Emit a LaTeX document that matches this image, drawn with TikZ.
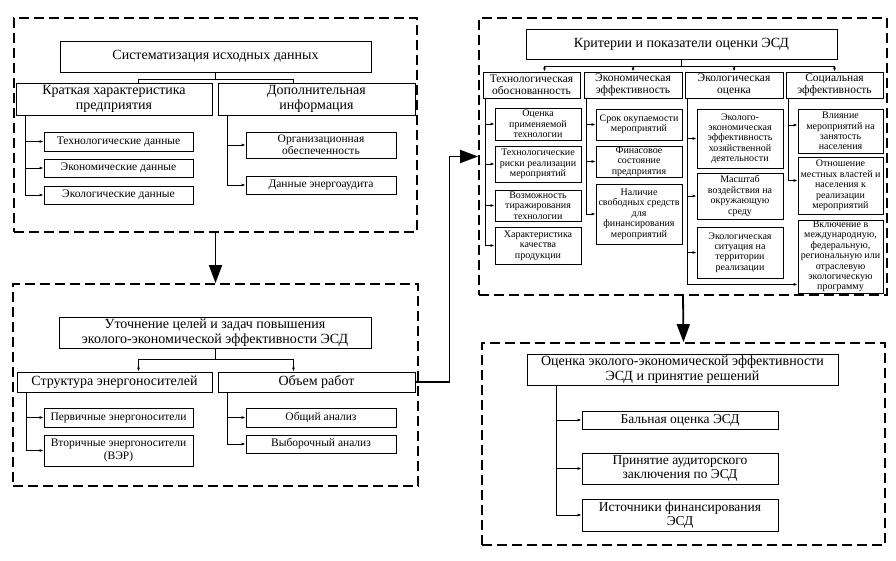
\documentclass[tikz,border=0pt]{standalone}
\usepackage{fontspec}
\setmainfont{Liberation Serif}
\usepackage{tikz}
\usetikzlibrary{positioning, arrows.meta, calc}

\begin{document}
\begin{tikzpicture}[x=1pt, y=-1pt,
    every node/.style={align=center, inner sep=1pt},
    frame/.style  ={draw, line width=1.8pt, dash pattern=on 10pt off 5pt, minimum width=403pt, minimum height=202pt},
    head/.style   ={draw, line width=0.8pt, font=\fontsize{14}{15}\selectfont, minimum width=311pt, minimum height=31pt},
    group/.style  ={draw, line width=0.8pt, font=\fontsize{14}{14.5}\selectfont, minimum width=196pt},
    item/.style   ={draw, line width=0.8pt, font=\fontsize{11.5}{12.5}\selectfont, minimum width=149pt},
    final/.style  ={draw, line width=0.8pt, font=\fontsize{13.5}{14.5}\selectfont, minimum width=196pt},
    col/.style    ={draw, line width=0.8pt, font=\fontsize{11.5}{12.5}\selectfont, minimum width=97pt, minimum height=26pt},
    cell/.style   ={draw, line width=0.8pt, font=\fontsize{10}{10.4}\selectfont, minimum width=86pt, inner sep=0pt},
    tip/.style    ={-{Latex[length=4pt, width=3pt]}, line width=0.8pt},
    link/.style   ={line width=0.8pt},
    bigarrow/.style={-{Triangle[length=18pt, width=13pt]}, line width=1.8pt}
]
\useasboundingbox (0,0) rectangle (896,561);

% Frames
\node[frame, minimum height=214pt] (sys)  at (215.5,125) {};
\node[frame, minimum width=405pt]  (goal) at (215.5,385) {};
\node[frame, minimum width=408pt, minimum height=277pt] (crit) at (683,156.5) {};
\node[frame] (eval) at (683.5,444) {};

% Block 1 -- source data
\node[head]  (h1)    at (215.5,56.5) {Систематизация исходных данных};
\node[group, minimum height=32pt] (brief) at (114,99)   {Краткая характеристика\\предприятия};
\node[group, minimum height=32pt, minimum width=197pt] (extra) at (316.5,99) {Дополнительная\\информация};
\node[item, minimum height=19pt] (techd) at (118.5,141.5) {Технологические данные};
\node[item, minimum height=18pt] (econd) at (118.5,168)   {Экономические данные};
\node[item, minimum height=18pt] (ecold) at (118.5,195)   {Экологические данные};
\node[item, minimum height=26pt, minimum width=150pt] (org)   at (321,145) {Организационная\\обеспеченность};
\node[item, minimum height=18pt, minimum width=150pt] (audit) at (321,185) {Данные энергоаудита};

\draw[link] (h1.south) -- ++(0,7) -| ([xshift=24pt]brief.north);
\draw[link] (h1.south) -- ++(0,7) -| ([xshift=-23pt]extra.north);
\draw[tip] ([xshift=10pt]brief.south west) |- (techd.west);
\draw[tip] ([xshift=10pt]brief.south west) |- (econd.west);
\draw[tip] ([xshift=10pt]brief.south west) |- (ecold.west);
\draw[tip] ([xshift=10pt]extra.south west) |- (org.west);
\draw[tip] ([xshift=10pt]extra.south west) |- (audit.west);

% Block 2 -- goals
\node[head, minimum width=312pt] (h2) at (215,332.5) {Уточнение целей и задач повышения\\эколого-экономической эффективности ЭСД};
\node[group, minimum height=20pt, minimum width=195pt] (carr) at (114.5,382) {Структура энергоносителей};
\node[group, minimum height=20pt, minimum width=197pt] (work) at (316.5,382) {Объем работ};
\node[item, minimum height=19pt] (prim) at (118.5,417.5) {Первичные энергоносители};
\node[item, minimum height=31pt] (sec)  at (118.5,450.5) {Вторичные энергоносители\\(ВЭР)};
\node[item, minimum height=19pt, minimum width=150pt] (gen)  at (321,417.5) {Общий анализ};
\node[item, minimum height=18pt, minimum width=150pt] (samp) at (321,444)   {Выборочный анализ};

\draw[tip] (h2.south) -- ++(0,11) -| ([xshift=24pt]carr.north);
\draw[tip] (h2.south) -- ++(0,11) -| ([xshift=-23pt]work.north);
\draw[tip] ([xshift=10pt]carr.south west) |- (prim.west);
\draw[tip] ([xshift=10pt]carr.south west) |- (sec.west);
\draw[tip] ([xshift=10pt]work.south west) |- (gen.west);
\draw[tip] ([xshift=10pt]work.south west) |- (samp.west);

% Block 3 -- criteria
\node[head, minimum height=30pt] (h3) at (681.5,44) {Критерии и показатели оценки ЭСД};
\node[col] (c1) at (531.5,85) {Технологическая\\обоснованность};
\node[col, minimum width=98pt] (c2) at (633,85)   {Экономическая\\эффективность};
\node[col, minimum width=98pt] (c3) at (734,85)   {Экологическая\\оценка};
\node[col] (c4) at (834.5,85) {Социальная\\эффективность};

\draw[tip] (h3.south) -- ++(0,7) -| ([xshift=13pt]c1.north);
\draw[tip] (h3.south) -- ++(0,7) -| (c2.north);
\draw[tip] (h3.south) -- ++(0,7) -| (c3.north);
\draw[tip] (h3.south) -- ++(0,7) -| (c4.north);

\node[cell, minimum height=32pt] (t1) at (538,124)   {Оценка\\применяемой\\технологии};
\node[cell, minimum height=36pt] (t2) at (538,164)   {Технологические\\риски реализации\\мероприятий};
\node[cell, minimum height=31pt] (t3) at (538,205.5) {Возможность\\тиражирования\\технологии};
\node[cell, minimum height=37pt] (t4) at (538,245.5) {Характеристика\\качества\\продукции};

\node[cell, minimum height=31pt] (e1) at (639,124.5) {Срок окупаемости\\мероприятий};
\node[cell, minimum height=31pt] (e2) at (639,161.5) {Финасовое\\состояние\\предприятия};
\node[cell, minimum height=60pt] (e3) at (639,214)   {Наличие\\свободных средств\\для\\финансирования\\мероприятий};

\node[cell, minimum height=59pt] (g1) at (740,138.5) {Эколого-\\экономическая\\эффективность\\хозяйственной\\деятельности};
\node[cell, minimum height=46pt] (g2) at (740,196)   {Масштаб\\воздействия на\\окружающую\\среду};
\node[cell, minimum height=51pt] (g3) at (740,252.5) {Экологическая\\ситуация на\\территории\\реализации};

\node[cell, minimum height=44pt, minimum width=85pt] (s1) at (840.5,131)   {Влияние\\мероприятий на\\занятость\\населения};
\node[cell, minimum height=57pt, minimum width=85pt] (s2) at (840.5,185.5) {Отношение\\местных властей и\\населения к\\реализации\\мероприятий};
\node[cell, minimum height=73pt, minimum width=85pt] (s3) at (840.5,256.5) {Включение в\\международную,\\федеральную,\\региональную или\\отраслевую\\экологическую\\программу};

\draw[tip] ([xshift=3pt]c1.south west) |- (t1.west);
\draw[tip] ([xshift=3pt]c1.south west) |- (t2.west);
\draw[tip] ([xshift=3pt]c1.south west) |- (t3.west);
\draw[tip] ([xshift=3pt]c1.south west) |- (t4.west);
\draw[tip] ([xshift=3pt]c2.south west) |- (e1.west);
\draw[tip] ([xshift=3pt]c2.south west) |- (e2.west);
\draw[tip] ([xshift=3pt]c2.south west) |- (e3.west);
\draw[tip] ([xshift=3pt]c3.south west) |- (g1.west);
\draw[tip] ([xshift=3pt]c3.south west) |- (g2.west);
\draw[tip] ([xshift=3pt]c3.south west) |- (g3.west);
\draw[tip] ([xshift=3pt]c3.south west) |- ([yshift=9pt]s3.south west);
\draw[tip] ([xshift=3pt]c4.south west) |- ([yshift=6pt]s1.west);
\draw[tip] ([xshift=3pt]c4.south west) |- ([yshift=5pt]s2.west);

% Block 4 -- decision
\node[head] (h4) at (682.5,369.5) {Оценка эколого-экономической эффективности\\ЭСД и принятие решений};
\node[final, minimum height=18pt] (score) at (680,420)   {Бальная оценка ЭСД};
\node[final, minimum height=31pt] (concl) at (680,468.5) {Принятие аудиторского\\заключения по ЭСД};
\node[final, minimum height=32pt] (fund)  at (680,515)   {Источники финансирования\\ЭСД};

\draw[tip] ([xshift=30pt]h4.south west) |- (score.west);
\draw[tip] ([xshift=30pt]h4.south west) |- (concl.west);
\draw[tip] ([xshift=30pt]h4.south west) |- (fund.west);

% Flow between frames
\draw[bigarrow] (sys.south) -- (goal.north);
\draw[bigarrow] (work.east) -- ++(34,0) |- (crit.west);
\draw[bigarrow] (crit.south) -- (eval.north);
\end{tikzpicture}
\end{document}
